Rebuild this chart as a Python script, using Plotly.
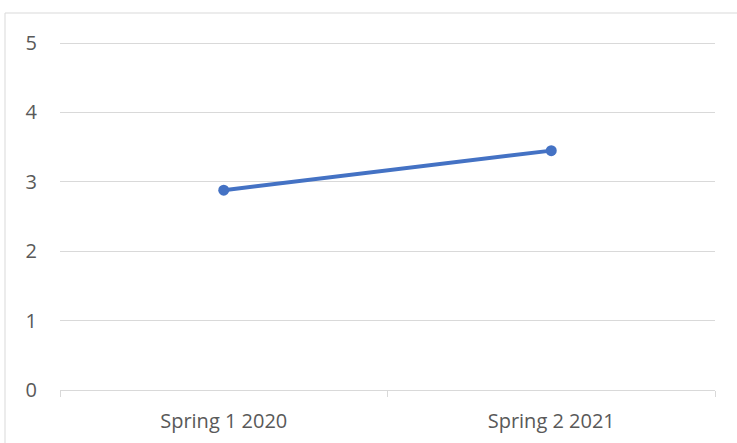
import plotly.graph_objects as go

categories = ["Spring 1 2020", "Spring 2 2021"]
values = [2.88, 3.45]
y_ticks = [0, 1, 2, 3, 4, 5]

W, H = 737, 443
L, R, T, B = 60, 22, 41, 53
pw = W - L - R
ph = H - T - B

fig = go.Figure()
fig.add_trace(go.Scatter(
    x=categories, y=values, mode="lines+markers",
    line=dict(color="#4472C4", width=4),
    marker=dict(color="#4472C4", size=11),
    showlegend=False,
))

font_color = "#595959"
fs = 20
fig.update_layout(
    width=W, height=H,
    margin=dict(l=L, r=R, t=T, b=B),
    paper_bgcolor="white", plot_bgcolor="white",
    font=dict(family="Open Sans, Liberation Sans, sans-serif", size=fs, color=font_color),
    xaxis=dict(
        type="category", range=[-0.5, 1.5], automargin=False,
        showline=True, linecolor="#d9d9d9", linewidth=1,
        ticks="outside", tickson="boundaries", ticklen=6, tickcolor="#d9d9d9",
        showgrid=False, tickfont=dict(size=fs, color=font_color),
        ticklabelstandoff=13,
    ),
    yaxis=dict(
        range=[0, 5.03], tickvals=y_ticks, showgrid=True, gridcolor="#d9d9d9",
        gridwidth=1, zeroline=False, showline=False, ticks="", automargin=False,
        ticklabelstandoff=22, tickfont=dict(size=fs, color=font_color),
    ),
    shapes=[dict(
        type="rect", xref="paper", yref="paper",
        x0=(5 - L) / pw, x1=(W + 10 - L) / pw,
        y0=-(B + 10) / ph, y1=(H - B - 13) / ph,
        line=dict(color="#d9d9d9", width=1), fillcolor="rgba(0,0,0,0)",
        layer="below",
    )],
)

fig.write_html("out.html")
